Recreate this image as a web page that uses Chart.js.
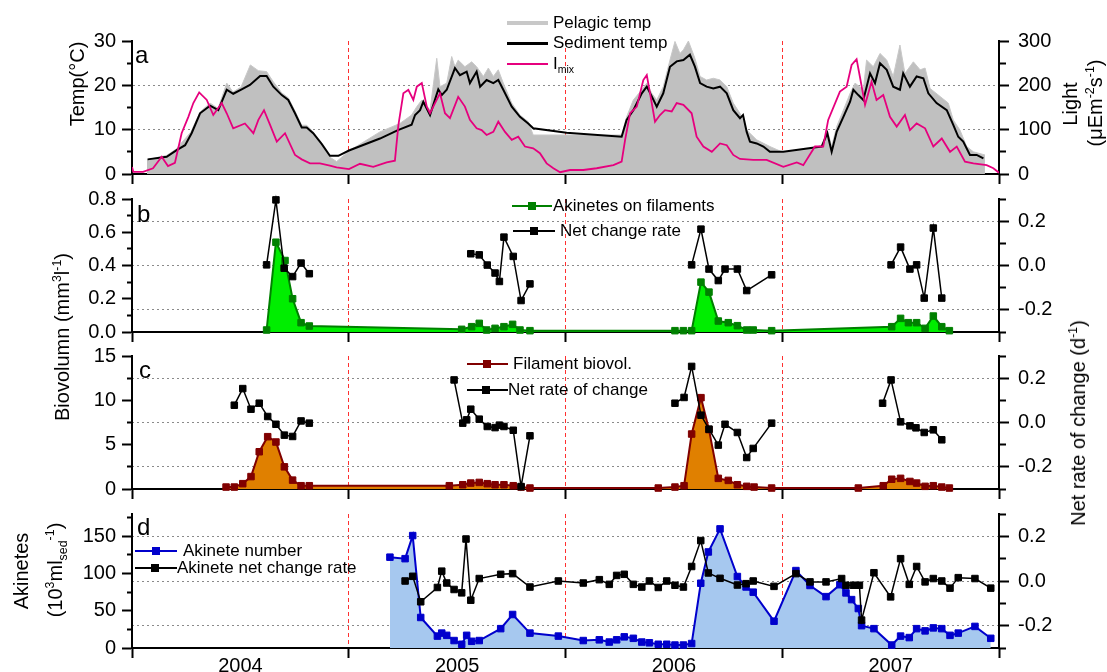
<!DOCTYPE html>
<html lang="en">
<head>
<meta charset="UTF-8">
<title>Temperature, light and akinetes 2004-2007</title>
<style>
  body { margin: 0; background: #fff; }
  #wrap { position: relative; width: 1107px; height: 672px; overflow: hidden;
          font-family: 'Liberation Sans', Arial, sans-serif; color: #000; }
  #wrap canvas { position: absolute; left: 0; top: 0; }
  .ttl { position: absolute; white-space: nowrap; font-size: 20px; line-height: 20px;
         transform: translate(-50%, -50%) rotate(-90deg); }
  .ttl sup, .ttl sub, .leg sub { font-size: 0.62em; line-height: 0; }
  .panel { position: absolute; font-size: 24px; line-height: 24px; }
  .leg { position: absolute; font-size: 17px; line-height: 20px; white-space: nowrap; }
  .key { position: absolute; }
</style>
</head>
<body>
<div id="wrap">
  <canvas id="cA" width="1107" height="672"></canvas>
  <canvas id="cB" width="1107" height="672"></canvas>
  <canvas id="cC" width="1107" height="672"></canvas>
  <canvas id="cD" width="1107" height="672"></canvas>

  <!-- axis titles -->
  <div class="ttl" style="left:77px;top:84px">Temp(°C)</div>
  <div class="ttl" style="left:1070px;top:104px">Light</div>
  <div class="ttl" style="left:1095px;top:103px">(μEm<sup>-2</sup>s<sup>-1</sup>)</div>
  <div class="ttl" style="left:62px;top:337px">Biovolumn (mm<sup>3</sup>l<sup>-1</sup>)</div>
  <div class="ttl" style="left:1078px;top:423px">Net rate of change (d<sup>-1</sup>)</div>
  <div class="ttl" style="left:21px;top:571px">Akinetes</div>
  <div class="ttl" style="left:55px;top:570px">(10<sup>3</sup>ml<sub>sed</sub><sup>-1</sup>)</div>

  <!-- panel letters -->
  <div class="panel" style="left:135px;top:43px">a</div>
  <div class="panel" style="left:137px;top:202px">b</div>
  <div class="panel" style="left:139px;top:358px">c</div>
  <div class="panel" style="left:137px;top:515px">d</div>

  <!-- legends -->
  <div class="key" style="left:507px;top:21px;width:41px;height:4px;background:#c8c8c8"></div>
  <div class="leg" style="left:553px;top:13px">Pelagic temp</div>
  <div class="key" style="left:507px;top:42px;width:41px;height:2.5px;background:#000"></div>
  <div class="leg" style="left:553px;top:33px">Sediment temp</div>
  <div class="key" style="left:507px;top:63px;width:41px;height:2px;background:#e6007e"></div>
  <div class="leg" style="left:553px;top:54px">I<sub>mix</sub></div>

  <div class="key" style="left:512px;top:205px;width:40px;height:2px;background:#008000"></div>
  <div class="key" style="left:528px;top:202px;width:8px;height:8px;background:#008000"></div>
  <div class="leg" style="left:553px;top:196px">Akinetes on filaments</div>
  <div class="key" style="left:513px;top:230px;width:42px;height:2px;background:#000"></div>
  <div class="key" style="left:530px;top:227px;width:8px;height:8px;background:#000"></div>
  <div class="leg" style="left:560px;top:221px">Net change rate</div>

  <div class="key" style="left:467px;top:363px;width:41px;height:2px;background:#800000"></div>
  <div class="key" style="left:483px;top:360px;width:8px;height:8px;background:#800000"></div>
  <div class="leg" style="left:513px;top:354px">Filament biovol.</div>
  <div class="key" style="left:467px;top:389px;width:41px;height:2px;background:#000"></div>
  <div class="key" style="left:482px;top:386px;width:8px;height:8px;background:#000"></div>
  <div class="leg" style="left:508px;top:380px">Net rate of change</div>

  <div class="key" style="left:135px;top:550px;width:42px;height:2px;background:#0000cc"></div>
  <div class="key" style="left:152px;top:547px;width:8px;height:8px;background:#0000cc"></div>
  <div class="leg" style="left:183px;top:541px">Akinete number</div>
  <div class="key" style="left:135px;top:567px;width:42px;height:2px;background:#000"></div>
  <div class="key" style="left:151px;top:564px;width:8px;height:8px;background:#000"></div>
  <div class="leg" style="left:177px;top:558px">Akinete net change rate</div>
</div>

<script src="https://cdn.jsdelivr.net/npm/chart.js"></script>
<script>
// ---- data (x = decimal year) ----
const yearTicks = [2004, 2004.5, 2005, 2005.5, 2006, 2006.5, 2007, 2007.5, 2008];

// panel a: pelagic temperature (grey area)
const pelagicYear = [2004.069, 2004.160, 2004.203, 2004.272, 2004.314, 2004.360, 2004.397, 2004.437, 2004.466, 2004.503,
  2004.546, 2004.583, 2004.621, 2004.652, 2004.691, 2004.721, 2004.752, 2004.783, 2004.806, 2004.836,
  2004.875, 2004.913, 2004.944, 2005.001, 2005.144, 2005.236, 2005.290, 2005.314, 2005.337, 2005.375,
  2005.406, 2005.421, 2005.452, 2005.475, 2005.490, 2005.505, 2005.536, 2005.567, 2005.590, 2005.621,
  2005.644, 2005.667, 2005.690, 2005.713, 2005.752, 2005.790, 2005.828, 2005.851, 2006.259, 2006.282,
  2006.313, 2006.352, 2006.375, 2006.398, 2006.421, 2006.451, 2006.482, 2006.505, 2006.528, 2006.544,
  2006.567, 2006.597, 2006.621, 2006.651, 2006.682, 2006.713, 2006.744, 2006.774, 2006.805, 2006.836,
  2006.882, 2006.943, 2007.003, 2007.182, 2007.208, 2007.228, 2007.251, 2007.282, 2007.313, 2007.336,
  2007.374, 2007.389, 2007.420, 2007.451, 2007.482, 2007.512, 2007.543, 2007.566, 2007.605, 2007.636,
  2007.659, 2007.682, 2007.728, 2007.766, 2007.789, 2007.820, 2007.851, 2007.882, 2007.935];
const pelagicTemp = [3.2, 4.2, 5.6, 9.5, 14.0, 16.0, 14.8, 20.5, 18.5, 19.6,
  24.6, 23.3, 23.1, 20.8, 18.3, 17.2, 14.2, 11.0, 11.0, 9.5,
  6.5, 3.8, 2.8, 5.2, 9.5, 11.4, 13.3, 15.2, 16.7, 14.4,
  26.1, 19.7, 20.5, 26.5, 24.2, 25.7, 24.2, 25.3, 24.2, 22.0,
  23.9, 22.0, 23.5, 20.5, 16.0, 13.3, 11.8, 8.8, 8.8, 12.9,
  16.7, 19.0, 20.5, 18.2, 16.7, 19.7, 25.7, 29.9, 27.2, 28.0,
  30.0, 26.1, 22.0, 21.2, 21.6, 21.2, 19.7, 16.0, 13.7, 9.9,
  7.7, 6.2, 4.9, 5.8, 9.9, 6.2, 10.7, 14.4, 18.2, 20.5,
  19.0, 25.7, 24.2, 27.2, 25.7, 22.0, 29.1, 22.7, 25.3, 23.5,
  23.9, 19.3, 17.5, 16.0, 12.2, 9.9, 6.2, 5.0, 4.3];

// panel a: sediment temperature (black line)
const sedimentYear = [2004.072, 2004.160, 2004.206, 2004.245, 2004.275, 2004.314, 2004.360, 2004.398, 2004.437, 2004.467,
  2004.506, 2004.544, 2004.591, 2004.621, 2004.652, 2004.691, 2004.721, 2004.752, 2004.783, 2004.806,
  2004.836, 2004.875, 2004.913, 2004.952, 2005.001, 2005.144, 2005.227, 2005.290, 2005.306, 2005.329,
  2005.344, 2005.375, 2005.413, 2005.429, 2005.452, 2005.490, 2005.513, 2005.544, 2005.559, 2005.590,
  2005.606, 2005.636, 2005.667, 2005.690, 2005.713, 2005.752, 2005.790, 2005.828, 2005.851, 2006.005,
  2006.259, 2006.282, 2006.313, 2006.352, 2006.375, 2006.398, 2006.421, 2006.451, 2006.482, 2006.513,
  2006.544, 2006.574, 2006.597, 2006.621, 2006.651, 2006.682, 2006.713, 2006.744, 2006.774, 2006.805,
  2006.819, 2006.836, 2006.851, 2006.882, 2006.913, 2006.943, 2007.005, 2007.182, 2007.208, 2007.228,
  2007.251, 2007.282, 2007.313, 2007.328, 2007.351, 2007.374, 2007.405, 2007.428, 2007.451, 2007.482,
  2007.512, 2007.543, 2007.558, 2007.589, 2007.620, 2007.651, 2007.674, 2007.712, 2007.759, 2007.789,
  2007.812, 2007.835, 2007.866, 2007.897, 2007.928];
const sedimentTemp = [3.3, 3.9, 5.4, 6.5, 9.2, 13.7, 15.4, 14.4, 19.0, 18.1,
  19.1, 20.1, 22.1, 22.1, 19.7, 17.8, 16.7, 13.7, 10.5, 10.5,
  9.2, 6.8, 4.1, 4.1, 5.3, 8.0, 9.9, 11.1, 13.3, 14.4,
  16.3, 13.3, 19.1, 17.8, 19.0, 23.9, 22.3, 23.1, 20.5, 23.1,
  19.7, 21.2, 20.5, 21.2, 19.0, 15.2, 12.9, 11.4, 10.3, 9.3,
  8.4, 12.2, 14.4, 18.2, 19.7, 17.5, 15.2, 18.2, 24.2, 25.4,
  25.7, 26.9, 24.2, 20.5, 19.7, 19.3, 19.7, 18.2, 14.4, 12.6,
  13.3, 9.5, 7.3, 6.9, 6.2, 5.0, 5.0, 6.2, 9.2, 5.0,
  9.5, 12.9, 16.3, 19.0, 17.8, 16.7, 22.7, 20.5, 25.0, 23.5,
  19.7, 19.0, 22.7, 19.7, 22.0, 21.6, 18.2, 16.0, 14.4, 11.1,
  8.4, 7.3, 4.3, 4.3, 3.5];

// panel a: mixed-layer light I_mix (right axis)
const lightYear = [2004.000, 2004.006, 2004.051, 2004.097, 2004.137, 2004.166, 2004.198, 2004.229, 2004.260, 2004.283,
  2004.310, 2004.345, 2004.375, 2004.414, 2004.437, 2004.467, 2004.521, 2004.560, 2004.583, 2004.609,
  2004.637, 2004.668, 2004.706, 2004.752, 2004.783, 2004.821, 2004.867, 2004.913, 2004.944, 2005.001,
  2005.052, 2005.113, 2005.175, 2005.213, 2005.229, 2005.252, 2005.275, 2005.298, 2005.314, 2005.337,
  2005.360, 2005.375, 2005.398, 2005.421, 2005.444, 2005.467, 2005.505, 2005.536, 2005.559, 2005.590,
  2005.613, 2005.636, 2005.667, 2005.690, 2005.721, 2005.752, 2005.782, 2005.813, 2005.851, 2005.882,
  2005.913, 2005.944, 2005.975, 2006.021, 2006.082, 2006.144, 2006.221, 2006.259, 2006.275, 2006.298,
  2006.329, 2006.359, 2006.375, 2006.390, 2006.413, 2006.436, 2006.459, 2006.490, 2006.513, 2006.544,
  2006.582, 2006.605, 2006.636, 2006.675, 2006.713, 2006.744, 2006.774, 2006.805, 2006.866, 2006.928,
  2007.005, 2007.067, 2007.097, 2007.151, 2007.189, 2007.212, 2007.266, 2007.297, 2007.320, 2007.343,
  2007.358, 2007.382, 2007.412, 2007.435, 2007.466, 2007.497, 2007.528, 2007.566, 2007.589, 2007.620,
  2007.659, 2007.697, 2007.736, 2007.774, 2007.805, 2007.843, 2007.882, 2007.943, 2007.974, 2008.000];
const lightMix = [16, 5, 5, 13, 39, 18, 25, 92, 129, 160,
  184, 167, 133, 160, 137, 103, 114, 92, 122, 144,
  111, 73, 92, 43, 33, 24, 24, 19, 15, 11,
  23, 16, 26, 30, 110, 182, 190, 167, 197, 205,
  152, 137, 160, 182, 137, 126, 174, 152, 122, 103,
  99, 88, 95, 118, 95, 77, 84, 62, 58, 47,
  24, 13, 4, 9, 9, 13, 20, 28, 77, 137,
  152, 212, 223, 182, 118, 133, 144, 141, 160, 156,
  137, 84, 62, 50, 69, 65, 43, 34, 32, 32,
  16, 26, 20, 62, 62, 122, 186, 197, 246, 259,
  220, 156, 208, 167, 178, 129, 107, 133, 99, 114,
  103, 62, 80, 50, 62, 28, 24, 20, 13, 3];

// panel b: akinetes on filaments (mm3 l-1) and their net change rate (d-1)
const akFilYear = [2004.621, 2004.664, 2004.706, 2004.741, 2004.780, 2004.818, 2005.521, 2005.567, 2005.602, 2005.636,
  2005.675, 2005.716, 2005.756, 2005.790, 2005.836, 2006.505, 2006.544, 2006.582, 2006.625, 2006.662,
  2006.705, 2006.751, 2006.793, 2006.836, 2006.866, 2006.951, 2007.505, 2007.546, 2007.582, 2007.620,
  2007.659, 2007.697, 2007.736, 2007.771];
const akFilVol = [0.012, 0.54, 0.43, 0.20, 0.056, 0.036, 0.016, 0.032, 0.052, 0.012,
  0.022, 0.032, 0.046, 0.012, 0.008, 0.008, 0.008, 0.008, 0.30, 0.24,
  0.066, 0.056, 0.038, 0.012, 0.012, 0.008, 0.032, 0.082, 0.056, 0.056,
  0.022, 0.096, 0.032, 0.008];
const akFilRateYear = [2004.621, 2004.664, 2004.702, 2004.741, 2004.780, 2004.818, 2005.2,
  2005.563, 2005.602, 2005.639, 2005.675, 2005.695, 2005.716, 2005.759, 2005.795, 2005.836, 2006.2,
  2006.582, 2006.625, 2006.662, 2006.705, 2006.736, 2006.793, 2006.836, 2006.951, 2007.2,
  2007.502, 2007.546, 2007.589, 2007.620, 2007.655, 2007.697, 2007.736];
const akFilRate = [0.003, 0.296, -0.012, -0.05, 0.011, -0.037, null,
  0.053, 0.048, 0.002, -0.034, -0.072, 0.128, 0.041, -0.158, -0.083, null,
  0.003, 0.164, -0.016, -0.068, -0.016, -0.016, -0.113, -0.042, null,
  0.003, 0.083, -0.016, 0.003, -0.147, 0.169, -0.147];

// panel c: filament biovolume (mm3 l-1) and its net rate of change (d-1)
const filYear = [2004.434, 2004.472, 2004.511, 2004.549, 2004.587, 2004.626, 2004.664, 2004.703, 2004.741, 2004.780,
  2004.818, 2005.464, 2005.526, 2005.563, 2005.602, 2005.639, 2005.675, 2005.716, 2005.759, 2005.795,
  2005.836, 2006.428, 2006.505, 2006.547, 2006.582, 2006.625, 2006.662, 2006.705, 2006.751, 2006.793,
  2006.836, 2006.870, 2006.951, 2007.351, 2007.466, 2007.505, 2007.546, 2007.589, 2007.620, 2007.659,
  2007.697, 2007.736, 2007.771];
const filVol = [0.22, 0.22, 0.6, 1.4, 4.2, 5.9, 5.3, 2.5, 1.0, 0.37,
  0.37, 0.37, 0.48, 0.67, 0.74, 0.6, 0.48, 0.48, 0.37, 0.22,
  0.11, 0.11, 0.22, 0.37, 6.2, 10.3, 6.7, 1.2, 0.97, 0.48,
  0.3, 0.22, 0.11, 0.11, 0.37, 1.1, 1.2, 0.85, 0.67, 0.3,
  0.37, 0.22, 0.11];
const filRateYear = [2004.472, 2004.511, 2004.549, 2004.587, 2004.626, 2004.664, 2004.703, 2004.741, 2004.780, 2004.818, 2005.1,
  2005.486, 2005.526, 2005.544, 2005.563, 2005.602, 2005.639, 2005.675, 2005.695, 2005.716, 2005.759, 2005.795, 2005.836, 2006.1,
  2006.505, 2006.547, 2006.582, 2006.625, 2006.662, 2006.705, 2006.736, 2006.793, 2006.836, 2006.866, 2006.951, 2007.1,
  2007.463, 2007.502, 2007.546, 2007.589, 2007.617, 2007.655, 2007.697, 2007.736];
const filRate = [0.078, 0.153, 0.06, 0.087, 0.027, -0.008, -0.057, -0.063, 0.007, -0.003, null,
  0.192, -0.003, 0.012, 0.06, 0.015, -0.018, -0.023, -0.012, -0.018, -0.035, -0.289, -0.06, null,
  0.087, 0.113, 0.253, 0.033, -0.03, -0.102, -0.008, -0.045, -0.158, -0.117, -0.003, null,
  0.087, 0.192, 0.003, -0.015, -0.024, -0.045, -0.033, -0.078];

// panel d: akinetes in sediment (10^3 ml-1) and akinete net change rate (d-1)
const akNumYear = [2005.190, 2005.260, 2005.295, 2005.332, 2005.409, 2005.429, 2005.452, 2005.486, 2005.521, 2005.544,
  2005.567, 2005.602, 2005.701, 2005.756, 2005.836, 2005.967, 2006.082, 2006.156, 2006.202, 2006.236,
  2006.271, 2006.313, 2006.352, 2006.387, 2006.428, 2006.467, 2006.505, 2006.544, 2006.582, 2006.624,
  2006.659, 2006.713, 2006.793, 2006.833, 2006.866, 2006.962, 2007.063, 2007.128, 2007.202, 2007.266,
  2007.294, 2007.320, 2007.351, 2007.366, 2007.423, 2007.505, 2007.546, 2007.586, 2007.620, 2007.659,
  2007.697, 2007.736, 2007.774, 2007.812, 2007.889, 2007.962];
const akNum = [122, 120, 151, 41, 16, 20, 17, 10, 5, 17,
  9, 10, 26, 45, 20, 16, 10, 11, 8, 11,
  15, 13, 8, 7, 5, 5, 4, 4, 6, 87,
  129, 160, 96, 82, 75, 36, 104, 84, 69, 85,
  74, 65, 53, 30, 26, 4, 16, 14, 26, 23,
  27, 26, 17, 20, 29, 13];
const akRateYear = [2005.260, 2005.295, 2005.332, 2005.409, 2005.429, 2005.452, 2005.486, 2005.521, 2005.541, 2005.563,
  2005.602, 2005.701, 2005.756, 2005.836, 2005.967, 2006.082, 2006.156, 2006.202, 2006.236, 2006.271,
  2006.313, 2006.352, 2006.387, 2006.428, 2006.467, 2006.505, 2006.544, 2006.582, 2006.624, 2006.659,
  2006.713, 2006.793, 2006.833, 2006.866, 2006.962, 2007.063, 2007.128, 2007.202, 2007.274, 2007.294,
  2007.328, 2007.356, 2007.366, 2007.423, 2007.500, 2007.546, 2007.586, 2007.620, 2007.659, 2007.697,
  2007.736, 2007.774, 2007.812, 2007.889, 2007.962];
const akRate = [0.0, 0.021, -0.093, -0.029, 0.044, -0.009, -0.038, -0.053, 0.188, -0.086,
  0.011, 0.030, 0.033, -0.027, 0.0, -0.009, 0.006, -0.015, 0.025, 0.030,
  -0.015, -0.027, 0.0, -0.029, 0.0, -0.019, -0.027, 0.065, 0.181, 0.036,
  0.012, -0.018, -0.012, 0.0, -0.024, 0.033, -0.004, -0.004, 0.011, -0.019,
  -0.019, -0.019, -0.175, 0.037, -0.071, 0.1, -0.015, 0.065, -0.004, 0.011,
  0.0, -0.032, 0.015, 0.011, -0.032];

// ---- helpers ----
const FONT = "'Liberation Sans', Arial, sans-serif";
const tickFont = { family: FONT, size: 20 };
const pts = (xs, ys) => xs.map((x, i) => ({ x: x, y: ys[i] }));
const near = (a, b) => Math.abs(a - b) < 1e-6;
const isYearStart = v => near(v, Math.round(v));

function xAxis(showLabels, height) {
  return {
    type: 'linear', min: 2004, max: 2008,
    afterBuildTicks: s => { s.ticks = yearTicks.map(v => ({ value: v })); },
    afterFit: s => { s.height = height; },
    ticks: {
      display: showLabels, autoSkip: false, maxRotation: 0, padding: -4,
      color: '#000', font: tickFont,
      callback: v => (isYearStart(v) ? '' : String(Math.floor(v)))
    },
    grid: {
      lineWidth: 1,
      // red dashed year separators inside the panels
      color: c => (c.tick && isYearStart(c.tick.value) && c.tick.value > 2004 && c.tick.value < 2008)
        ? '#ff3030' : 'rgba(0,0,0,0)',
      tickLength: 10, tickWidth: 2,
      tickColor: c => (c.tick && isYearStart(c.tick.value)) ? '#000' : 'rgba(0,0,0,0)'
    },
    border: { color: '#000', width: 2, dash: [4, 3] }
  };
}

// y axis with minor ticks (half length) and labels on majors only
function yAxis(pos, min, max, step, major, digits, gridAt) {
  const isMajor = v => near(v / major, Math.round(v / major));
  return {
    type: 'linear', position: pos, min: min, max: max,
    afterBuildTicks: s => {
      const t = [];
      for (let k = 0; min + k * step <= max + 1e-9; k++) t.push({ value: Math.round((min + k * step) * 1e4) / 1e4 });
      s.ticks = t;
    },
    afterFit: s => { s.width = pos === 'left' ? 132 : 108; },
    ticks: {
      autoSkip: false, color: '#000', font: tickFont, padding: pos === 'left' ? 6 : 9,
      callback: v => isMajor(v) ? (v === 0 ? 0 : v).toFixed(digits) : ''
    },
    grid: {
      drawOnChartArea: !!gridAt,
      lineWidth: 1,
      color: c => (gridAt && c.tick && gridAt.some(g => near(g, c.tick.value))) ? '#8a8a8a' : 'rgba(0,0,0,0)',
      tickLength: 10, tickWidth: 2, tickColor: '#000',
      tickBorderDash: c => (c.tick && isMajor(c.tick.value)) ? [] : (pos === 'left' ? [0, 5, 6, 50] : [6, 50])
    },
    border: { color: '#000', width: 2, dash: [2, 3] }
  };
}

function opts(top, bottom, scales) {
  return {
    responsive: false, animation: false, events: [], devicePixelRatio: 1,
    layout: { padding: { top: top, bottom: bottom, left: 0, right: 0 } },
    plugins: { legend: { display: false }, tooltip: { enabled: false } },
    scales: scales
  };
}

function markers(color, width) {
  return { borderColor: color, borderWidth: width, pointStyle: 'rect', pointRadius: 4.6,
           pointBackgroundColor: color, pointBorderColor: color, pointBorderWidth: 1, clip: false };
}

// ---- panel a ----
new Chart(document.getElementById('cA'), {
  type: 'line',
  data: { datasets: [
    { label: 'Pelagic temp', data: pts(pelagicYear, pelagicTemp), yAxisID: 'y',
      borderColor: '#c8c8c8', backgroundColor: '#c0c0c0', borderWidth: 1, fill: 'origin', pointRadius: 0, order: 3 },
    { label: 'Sediment temp', data: pts(sedimentYear, sedimentTemp), yAxisID: 'y',
      borderColor: '#000', borderWidth: 2, fill: false, pointRadius: 0, order: 2 },
    { label: 'Imix', data: pts(lightYear, lightMix), yAxisID: 'y2',
      borderColor: '#e6007e', borderWidth: 1.8, fill: false, pointRadius: 0, order: 1 }
  ] },
  options: opts(41, 672 - 174 - 12, {
    x: xAxis(false, 12),
    y: yAxis('left', 0, 30, 5, 10, 0, [10, 20]),
    y2: yAxis('right', 0, 300, 50, 100, 0, null)
  })
});

// ---- panel b ----
new Chart(document.getElementById('cB'), {
  type: 'line',
  data: { datasets: [
    Object.assign({ label: 'Akinetes on filaments', data: pts(akFilYear, akFilVol), yAxisID: 'y',
      backgroundColor: '#00ee00', fill: 'origin', order: 2 }, markers('#008000', 2)),
    Object.assign({ label: 'Net change rate', data: pts(akFilRateYear, akFilRate), yAxisID: 'y2',
      fill: false, spanGaps: false, order: 1 }, markers('#000', 1.5))
  ] },
  options: opts(199, 672 - 332 - 12, {
    x: xAxis(false, 12),
    y: yAxis('left', 0, 0.8, 0.1, 0.2, 1, null),
    y2: yAxis('right', -0.3, 0.3, 0.1, 0.2, 1, [-0.2, 0, 0.2])
  })
});

// ---- panel c ----
new Chart(document.getElementById('cC'), {
  type: 'line',
  data: { datasets: [
    Object.assign({ label: 'Filament biovol.', data: pts(filYear, filVol), yAxisID: 'y',
      backgroundColor: '#e08000', fill: 'origin', order: 2 }, markers('#800000', 2)),
    Object.assign({ label: 'Net rate of change', data: pts(filRateYear, filRate), yAxisID: 'y2',
      fill: false, spanGaps: false, order: 1 }, markers('#000', 1.5))
  ] },
  options: opts(356, 672 - 489 - 12, {
    x: xAxis(false, 12),
    y: yAxis('left', 0, 15, 2.5, 5, 0, null),
    y2: yAxis('right', -0.3, 0.3, 0.1, 0.2, 1, [-0.2, 0, 0.2])
  })
});

// ---- panel d ----
new Chart(document.getElementById('cD'), {
  type: 'line',
  data: { datasets: [
    Object.assign({ label: 'Akinete number', data: pts(akNumYear, akNum), yAxisID: 'y',
      backgroundColor: '#a6c8ef', fill: 'origin', order: 2 }, markers('#0000cc', 2)),
    Object.assign({ label: 'Akinete net change rate', data: pts(akRateYear, akRate), yAxisID: 'y2',
      fill: false, order: 1 }, markers('#000', 1.5))
  ] },
  options: opts(514, 0, {
    x: xAxis(true, 672 - 648),
    y: yAxis('left', 0, 180, 25, 50, 0, null),
    y2: yAxis('right', -0.3, 0.3, 0.1, 0.2, 1, [-0.2, 0, 0.2])
  })
});
</script>
</body>
</html>
